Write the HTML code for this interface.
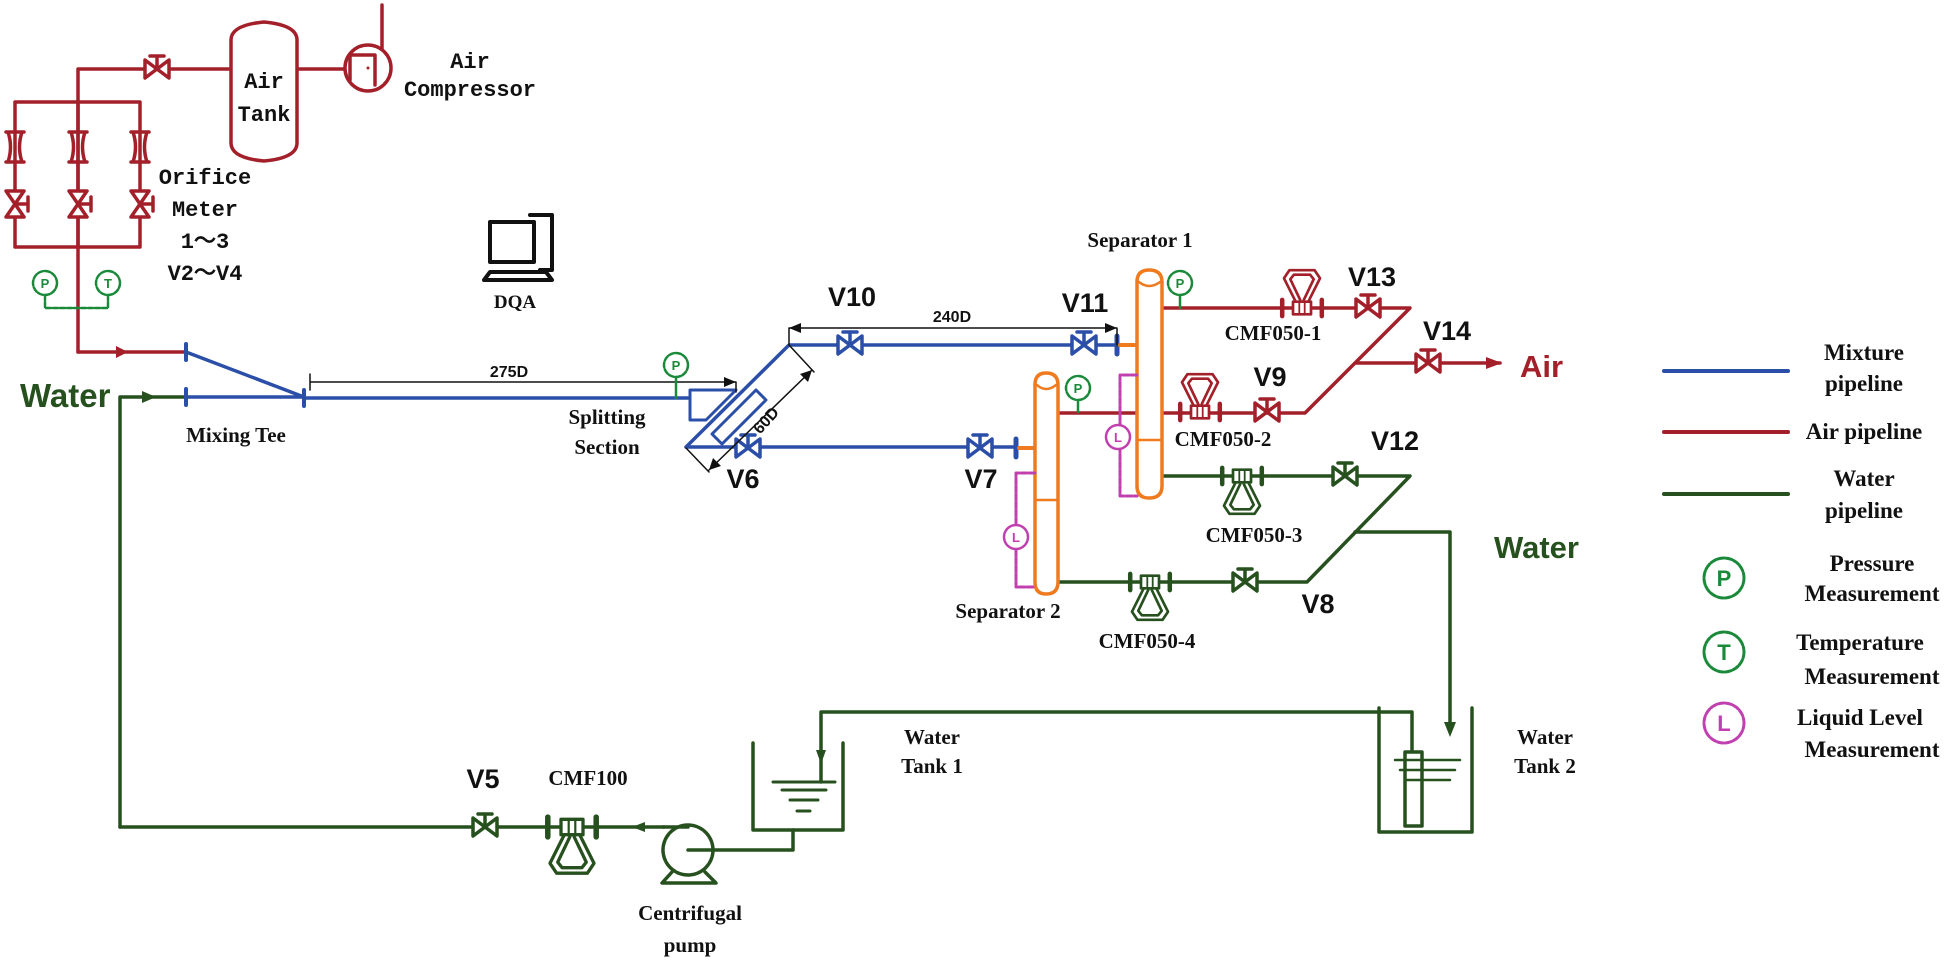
<!DOCTYPE html>
<html><head><meta charset="utf-8"><style>
html,body{margin:0;padding:0;background:#fff;}
svg{display:block;}
.s{font-family:"Liberation Sans",sans-serif;font-weight:bold;}
.r{font-family:"Liberation Serif",serif;font-weight:bold;}
.m{font-family:"Liberation Mono","WenQuanYi Zen Hei",monospace;font-weight:bold;}
</style></head><body>
<svg width="1950" height="964" viewBox="0 0 1950 964" xmlns="http://www.w3.org/2000/svg">
<defs>
<g id="valve"><path d="M-12,-9 L12,9 L12,-9 L-12,9 Z" fill="#fff" stroke-width="3.5"/><path d="M0,0 V-13 M-7,-13 H7" stroke-width="3.5"/></g>
<g id="vvalve"><path d="M-9,-13 L9,13 L-9,13 L9,-13 Z" fill="#fff" stroke-width="3.5"/><path d="M0,0 H13 M13,-7 V7" stroke-width="3.5"/></g>
<g id="orif"><path d="M-9,-15 H9 M-9,15 H9 M-7,-15 Q-2,0 -7,15 M7,-15 Q2,0 7,15" fill="none" stroke-width="3.5"/></g>
<g id="cmf"><path d="M-22,-9 V9 M22,-9 V9" stroke-width="5"/><rect x="-10" y="-7" width="20" height="14" fill="#fff" stroke-width="3"/><path d="M-3,-7 V7 M3,-7 V7" stroke-width="2"/>
<path d="M-7,7 L-20,33 L-14,42 L14,42 L20,33 L7,7 M-2,9 L-13,32 L-9,37 L9,37 L13,32 L2,9" fill="none" stroke-width="3"/></g>
</defs>
<g fill="none" stroke-linecap="round" stroke-linejoin="round">

<g stroke="#a3202a" stroke-width="3.5">
<path d="M78,352 V69 H231 M297,69 H345 M382,5 V80"/>
<path d="M15,102 H140 M15,102 V247 M78,102 V247 M140,102 V247 M15,247 H140"/>
<path d="M78,352 H186"/>
<path d="M231,40 Q231,25 264,22 Q297,25 297,40 V143 Q297,158 264,161 Q231,158 231,143 Z" fill="#fff"/>
<circle cx="368" cy="68" r="23" fill="#fff"/>
<path d="M350,55 H375 V85 M350,55 V80"/>
</g>
<circle cx="368" cy="68" r="1.5" fill="#a3202a"/>
<use href="#valve" x="157" y="69" stroke="#a3202a"/>
<g stroke="#a3202a"><use href="#orif" x="15" y="147"/><use href="#orif" x="78" y="147"/><use href="#orif" x="140" y="147"/>
<use href="#vvalve" x="15" y="204"/><use href="#vvalve" x="78" y="204"/><use href="#vvalve" x="140" y="204"/></g>
<path d="M116,346 L128,352 L116,358 Z" fill="#a3202a"/>
<g stroke="#1a8a3a" stroke-width="2.5">
<circle cx="45" cy="283" r="12" fill="#fff" stroke-dasharray="5 2"/><circle cx="108" cy="283" r="12" fill="#fff" stroke-dasharray="5 2"/>
<path d="M45,295 V308 H108 V295" stroke-dasharray="5 2"/>
</g>

<g stroke="#27501f" stroke-width="3.5">
<path d="M120,827 V397 H186"/>
<path d="M120,827 H664"/>
<path d="M688,850 H793 V830"/>
<path d="M753,743 V830 H843 V743"/>
<path d="M773,782 H835 M782,790 H826 M790,800 H818 M797,811 H810" stroke-width="3"/>
<path d="M821,782 V712 H1412 V752"/>
<path d="M1379,708 V832 H1472 V708"/>
<rect x="1405" y="752" width="17" height="74" fill="#fff"/>
<path d="M1395,760 H1460 M1400,770 H1455 M1405,780 H1450" stroke-width="2.5"/>
<circle cx="688" cy="850" r="25" fill="#fff" stroke-dasharray="6 1.5"/>
<path d="M688,850 H712 M663,827 H688 M672,872 L662,883 H716 L705,872"/>
<path d="M1162,476 H1410 L1307,582 H1058"/>
<path d="M1355,532 H1450 V727"/>
</g>
<path d="M142,391 L156,397 L142,403 Z" fill="#27501f"/>
<path d="M645,822 L632,827 L645,832 Z" fill="#27501f"/>
<path d="M816,750 L821,764 L826,750 Z" fill="#27501f"/>
<path d="M1444,722 L1450,737 L1456,722 Z" fill="#27501f"/>
<g stroke="#27501f"><use href="#valve" x="485" y="827"/><use href="#valve" x="1345" y="476"/><use href="#valve" x="1245" y="582"/>
<g transform="translate(572,827) scale(1.1)"><use href="#cmf"/></g>
<g transform="translate(1242,476) scale(0.9)"><use href="#cmf"/></g>
<g transform="translate(1150,582) scale(0.9)"><use href="#cmf"/></g>
</g>

<g stroke="#2b4fa8" stroke-width="3.5">
<path d="M186,352 L304,397 M186,397 H304 M304,398 H690"/>
<path d="M186,344 V360 M186,389 V405 M304,390 V406" stroke-width="4"/>
<path d="M690,390 H736 L706,420 H690 Z" fill="#fff" stroke-width="3"/>
<path d="M686,447 L789,345 H1117 M686,447 H1016"/>
<path d="M712,434 L756,390 L766,400 L722,444 Z" fill="#fff" stroke-width="3"/>
<path d="M1117,336 V354 M1016,439 V457" stroke-width="5"/>
</g>
<g stroke="#2b4fa8"><use href="#valve" x="850" y="345"/><use href="#valve" x="1084" y="345"/><use href="#valve" x="748" y="448"/><use href="#valve" x="980" y="448"/></g>
<g stroke="#f07a1e" stroke-width="4"><path d="M1120,345 H1137 M1019,448 H1035"/></g>
<g stroke="#111" stroke-width="1.5">
<path d="M310,382 H736 V392 M310,374 V390"/>
<path d="M789,345 V328 H1117 V345"/>
<path d="M789,345 L814,372 M686,448 L709,472 M812,370 L709,470"/>
</g>
<path d="M724,377 L736,382 L724,387 Z M801,323 L789,328 L801,333 Z M1105,323 L1117,328 L1105,333 Z M812,370 L800,374 L808,382 Z M709,470 L721,466 L713,458 Z" fill="#111"/>
<g stroke="#1a8a3a" stroke-width="2.5"><circle cx="676" cy="365" r="12" fill="#fff" stroke-dasharray="5 2"/><path d="M676,377 V398"/></g>

<g stroke="#a3202a" stroke-width="3.5">
<path d="M1162,308 H1410 L1305,413 H1058 M1355,363 H1500"/>
</g>
<path d="M1486,357 L1502,363 L1486,369 Z" fill="#a3202a"/>
<g stroke="#a3202a"><use href="#valve" x="1368" y="308"/><use href="#valve" x="1267" y="412"/><use href="#valve" x="1428" y="363"/>
<g transform="translate(1302,308) scale(0.9,-0.9)"><use href="#cmf"/></g>
<g transform="translate(1200,412) scale(0.9,-0.9)"><use href="#cmf"/></g></g>
<g stroke="#f07a1e" stroke-width="3.5" fill="#fff">
<path d="M1137,282 Q1137,270 1149,270 Q1162,270 1162,282 V486 Q1162,498 1149,498 Q1137,498 1137,486 Z"/>
<path d="M1035,385 Q1035,373 1046,373 Q1058,373 1058,385 V582 Q1058,594 1046,594 Q1035,594 1035,582 Z"/>
<path d="M1139,282 Q1149,290 1160,282 M1037,385 Q1046,393 1056,385 M1139,440 H1160 M1037,500 H1056" fill="none" stroke-width="2.5"/>
</g>
<g stroke="#c040b0" stroke-width="3" stroke-dasharray="6 2">
<path d="M1137,375 H1120 V496 H1137 M1035,473 H1016 V587 H1035"/>
</g>
<g stroke="#c040b0" stroke-width="2.5" fill="#fff"><circle cx="1118" cy="437" r="12"/><circle cx="1016" cy="537" r="12"/></g>
<g stroke="#1a8a3a" stroke-width="2.5"><circle cx="1180" cy="283" r="12" fill="#fff" stroke-dasharray="5 2"/><path d="M1180,295 V308"/>
<circle cx="1078" cy="388" r="12" fill="#fff" stroke-dasharray="5 2"/><path d="M1078,400 V412"/></g>

<g stroke="#111" stroke-width="4"><rect x="490" y="222" width="44" height="40" fill="#fff"/><path d="M530,215 H552 V270 H540"/><path d="M490,272 H546 L552,280 H484 Z"/></g>

<path d="M1664,371 H1788" stroke="#2b4fa8" stroke-width="4"/>
<path d="M1664,432 H1788" stroke="#a3202a" stroke-width="4"/>
<path d="M1664,494 H1788" stroke="#27501f" stroke-width="4"/>
<g stroke="#1a8a3a" stroke-width="3" stroke-dasharray="6 2"><circle cx="1724" cy="578" r="20"/><circle cx="1724" cy="652" r="20"/></g>
<circle cx="1724" cy="723" r="20" stroke="#c040b0" stroke-width="3" stroke-dasharray="6 2"/>
</g>

<g class="s" font-size="13" fill="#1a8a3a" text-anchor="middle">
<text x="45" y="288">P</text><text x="108" y="288">T</text><text x="676" y="370">P</text><text x="1180" y="288">P</text><text x="1078" y="393">P</text>
<text x="1724" y="586" font-size="22">P</text><text x="1724" y="660" font-size="22">T</text></g>
<g class="s" font-size="13" fill="#c040b0" text-anchor="middle"><text x="1118" y="442">L</text><text x="1016" y="542">L</text><text x="1724" y="731" font-size="22">L</text></g>

<g class="m" font-size="22" fill="#111" text-anchor="middle">
<text x="264" y="88">Air</text><text x="264" y="121">Tank</text>
<text x="470" y="68">Air</text><text x="470" y="96">Compressor</text>
<text x="205" y="184">Orifice</text><text x="205" y="216">Meter</text><text x="205" y="248">1～3</text><text x="205" y="280">V2～V4</text>
</g>
<g class="s" fill="#111" text-anchor="middle" font-size="27">
<text x="852" y="306">V10</text><text x="1085" y="312">V11</text><text x="743" y="488">V6</text><text x="981" y="488">V7</text>
<text x="1372" y="286">V13</text><text x="1447" y="340">V14</text><text x="1270" y="386">V9</text><text x="1395" y="450">V12</text><text x="1318" y="613">V8</text><text x="483" y="788">V5</text>
</g>
<g class="s" fill="#111" font-size="16" text-anchor="middle"><text x="509" y="377">275D</text><text x="952" y="322">240D</text>
<text transform="translate(770,424) rotate(-48)">60D</text></g>
<text x="1520" y="377" class="s" font-size="31" fill="#a3202a">Air</text>
<text x="1494" y="558" class="s" font-size="31" fill="#27501f">Water</text>
<text x="20" y="407" class="s" font-size="33" fill="#27501f">Water</text>
<g class="r" fill="#111" text-anchor="middle" font-size="21">
<text x="236" y="442">Mixing Tee</text>
<text x="607" y="424">Splitting</text><text x="607" y="454">Section</text>
<text x="515" y="308" font-size="19">DQA</text>
<text x="1140" y="247">Separator 1</text><text x="1008" y="618">Separator 2</text>
<text x="1273" y="340">CMF050-1</text><text x="1223" y="446">CMF050-2</text><text x="1254" y="542">CMF050-3</text><text x="1147" y="648">CMF050-4</text>
<text x="588" y="785">CMF100</text>
<text x="690" y="920">Centrifugal</text><text x="690" y="952">pump</text>
<text x="932" y="744">Water</text><text x="932" y="773">Tank 1</text>
<text x="1545" y="744">Water</text><text x="1545" y="773">Tank 2</text>
</g>
<g class="r" fill="#111" text-anchor="middle" font-size="23">
<text x="1864" y="360">Mixture</text><text x="1864" y="391">pipeline</text>
<text x="1864" y="439">Air pipeline</text>
<text x="1864" y="486">Water</text><text x="1864" y="518">pipeline</text>
<text x="1872" y="571">Pressure</text><text x="1872" y="601">Measurement</text>
<text x="1860" y="650">Temperature</text><text x="1872" y="684">Measurement</text>
<text x="1860" y="725">Liquid Level</text><text x="1872" y="757">Measurement</text>
</g>
</svg>
</body></html>
